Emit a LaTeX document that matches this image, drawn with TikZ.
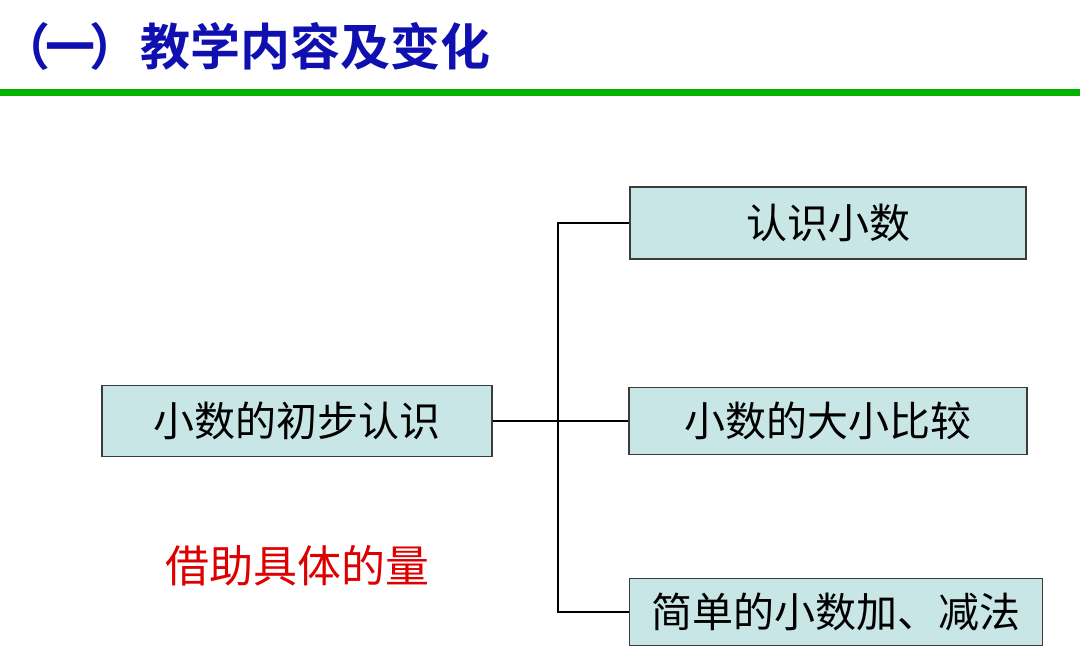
\documentclass[tikz,border=0pt]{standalone}
\usepackage{fontspec}
\setmainfont{Noto Sans CJK SC}[BoldFont={Noto Sans CJK SC Bold}]
\definecolor{titleblue}{RGB}{16,16,176}
\definecolor{rulegreen}{RGB}{0,178,0}
\definecolor{boxfill}{RGB}{201,230,230}
\definecolor{boxline}{RGB}{60,60,60}
\definecolor{notered}{RGB}{222,0,0}
\begin{document}
\begin{tikzpicture}[x=0.5pt,y=-0.5pt,
  topicbox/.style={draw=boxline,line width=0.8pt,fill=boxfill,rectangle,inner sep=0pt,font=\fontsize{20.5pt}{24pt}\selectfont},
  link/.style={draw=black,line width=0.7pt}]
\useasboundingbox (0,0) rectangle (1080,666);
\fill[white] (0,0) rectangle (1080,666);
\node[anchor=west,text=titleblue,font=\fontsize{25pt}{30pt}\selectfont\bfseries,inner sep=0pt] (title) at (0,46) {（\kern-2.5pt 一\kern-3pt ）\kern0.5pt 教学内容及变化};
\fill[rulegreen] (0,89) rectangle (1080,96);
\node[topicbox,minimum width=195pt,minimum height=35.5pt] (b1) at (297,421) {小数的初步认识};
\node[topicbox,minimum width=198pt,minimum height=36pt] (bA) at (828,223) {认识小数};
\node[topicbox,minimum width=199pt,minimum height=33.5pt] (bB) at (828,421) {小数的大小比较};
\node[topicbox,minimum width=206.5pt,minimum height=33.5pt] (bC) at (836,612) {简单的小数加、减法};
\node[text=notered,font=\fontsize{22pt}{26pt}\selectfont,inner sep=0pt] (note) at (297,566) {借助具体的量};
\coordinate (jtop) at (558,223);
\coordinate (jbot) at (558,612);
\draw[link] (bA.west) -- (jtop) -- (jbot) -- (bC.west);
\draw[link] (b1.east) -- (bB.west);
\end{tikzpicture}
\end{document}
